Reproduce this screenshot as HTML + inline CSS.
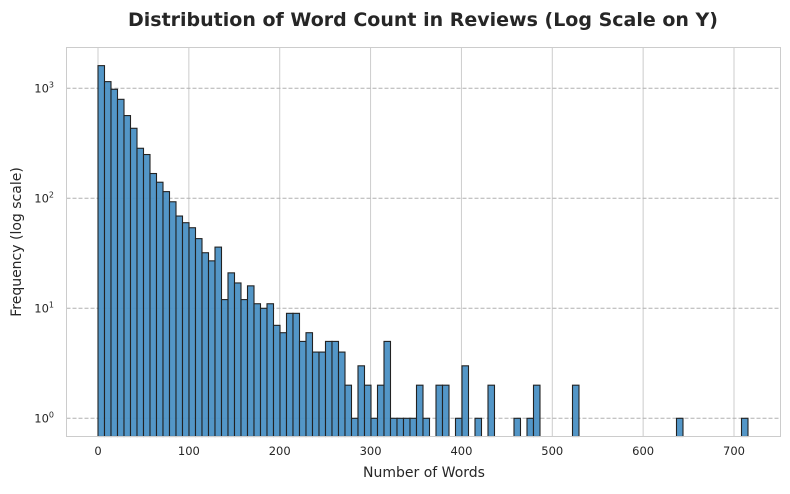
<!DOCTYPE html>
<html><head><meta charset="utf-8">
<style>
body{margin:0;background:#fff;width:790px;height:490px;overflow:hidden;font-family:"DejaVu Sans","Liberation Sans",sans-serif;}
svg text{fill:#262626;}
</style></head>
<body>
<svg id="chart" width="790" height="490" viewBox="0 0 790 490" xmlns="http://www.w3.org/2000/svg">
<text x="423" y="26" text-anchor="middle" font-size="19" font-weight="bold" font-family="DejaVu Sans, Liberation Sans, sans-serif">Distribution of Word Count in Reviews (Log Scale on Y)</text>
<g id="grid"></g>
<g id="bars"></g>
<rect x="66.5" y="47.5" width="714" height="389" fill="none" stroke="#cccccc" stroke-width="1"/>
<g id="ticks"></g>
<text x="424" y="477" text-anchor="middle" font-size="14">Number of Words</text>
<text transform="translate(21,242) rotate(-90)" text-anchor="middle" font-size="14">Frequency (log scale)</text>
</svg>
<script>
const binStart = 0;
const binWidth = 7.154;
const counts = [1607,1150,980,794,565,433,285,250,168,140,115,93,69,60,54,43,32,27,36,12,
21,17,12,16,11,10,11,7,6,9,9,5,6,4,4,5,5,4,2,1,
3,2,1,2,5,1,1,1,1,2,1,0,2,2,0,1,3,0,1,0,
2,0,0,0,1,0,1,2,0,0,0,0,0,2,0,0,0,0,0,0,
0,0,0,0,0,0,0,0,0,1,0,0,0,0,0,0,0,0,0,1];
const xTicks = [0,100,200,300,400,500,600,700];
const yTickExps = [0,1,2,3];

const NS = "http://www.w3.org/2000/svg";
function xs(v){ return 98 + v * (636/700); }
function ys(v){ return 418.3 - 110 * Math.log10(v); }
const svg = document.getElementById('chart');
const grid = document.getElementById('grid');
const bars = document.getElementById('bars');
const ticks = document.getElementById('ticks');
function mk(tag, attrs, parent){
  const e = document.createElementNS(NS, tag);
  for (const k in attrs) e.setAttribute(k, attrs[k]);
  parent.appendChild(e);
  return e;
}
xTicks.forEach(t => {
  const x = xs(t);
  const l = mk('line', {x1:x, x2:x, y1:47.5, y2:436.5, stroke:'#cccccc', 'stroke-width':1}, grid);
  
  
  const tx = mk('text', {x:x, y:455, 'text-anchor':'middle', 'font-size':11.5}, ticks);
  tx.textContent = t;
  
  
});
yTickExps.forEach(e => {
  const y = ys(Math.pow(10, e));
  const l = mk('line', {x1:66.5, x2:780.5, y1:y, y2:y, stroke:'#b0b0b0', 'stroke-width':1, 'stroke-dasharray':'4,2'}, grid);
  
  
  const tx = mk('text', {x:54, y:y+4, 'text-anchor':'end', 'font-size':11.5}, ticks);
  tx.textContent = '10';
  const sup = mk('tspan', {dy:-5, 'font-size':8}, tx);
  sup.textContent = e;
  
  
});
counts.forEach((c, i) => {
  if (c <= 0) return;
  const x0 = xs(binStart + i * binWidth);
  const x1 = xs(binStart + (i + 1) * binWidth);
  const yt = ys(c);
  const r = mk('rect', {x:x0, y:yt, width:x1 - x0, height:436.5 - yt, fill:'#4a90c4', stroke:'#222', 'stroke-width':1.1, 'fill-opacity':0.95}, bars);
  
  
});
</script>
</body></html>
